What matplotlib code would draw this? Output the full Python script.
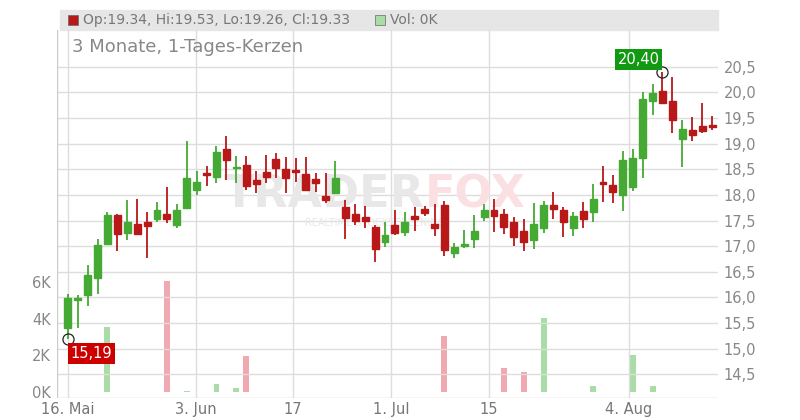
import matplotlib
matplotlib.use("Agg")
import matplotlib.pyplot as plt
from matplotlib.patches import Rectangle

opens  = [15.40,15.95,16.05,16.38,17.04,17.61,17.26,17.43,17.47,17.53,17.63,17.41,17.75,18.10,18.43,18.35,18.90,18.52,18.59,18.29,
          18.45,18.70,18.51,18.49,18.41,18.31,17.98,18.04,17.77,17.63,17.57,17.38,17.08,17.41,17.28,17.59,17.73,17.43,17.80,16.87,
          17.01,17.14,17.57,17.71,17.63,17.47,17.30,17.12,17.36,17.80,17.71,17.36,17.69,17.67,18.24,18.20,18.00,18.16,18.72,19.84,
          20.03,19.84,19.09,19.27,19.35,19.34]
highs  = [16.07,16.05,16.63,17.14,17.67,17.63,17.90,17.92,17.67,17.86,18.16,17.82,19.05,18.47,18.57,18.96,19.15,18.76,18.76,18.47,
          18.78,18.82,18.74,18.72,18.74,18.43,18.43,18.66,17.90,17.82,17.78,17.41,17.47,17.71,17.67,17.77,17.79,17.82,17.88,17.06,
          17.32,17.61,17.82,17.92,17.73,17.57,17.53,17.84,17.88,18.06,17.77,17.67,17.86,18.22,18.57,18.39,18.86,18.90,20.01,20.17,
          20.40,20.30,19.47,19.52,19.80,19.53]
lows   = [15.19,15.40,15.83,16.07,17.02,16.91,17.12,17.24,16.77,17.47,17.45,17.36,17.73,18.00,18.18,18.23,18.29,18.23,18.10,18.04,
          18.23,18.33,18.04,18.25,18.10,18.06,17.84,18.02,17.14,17.41,17.36,16.69,16.98,17.22,17.20,17.30,17.59,17.20,16.81,16.77,
          16.96,16.96,17.49,17.28,17.24,17.00,16.91,16.95,17.26,17.53,17.18,17.20,17.36,17.47,17.86,17.84,17.69,18.08,18.33,19.56,
          19.78,19.21,18.55,19.06,19.21,19.26]
closes = [15.99,15.97,16.44,17.02,17.61,17.24,17.47,17.24,17.39,17.71,17.53,17.71,18.33,18.25,18.39,18.84,18.68,18.53,18.18,18.21,
          18.35,18.53,18.33,18.45,18.10,18.23,17.90,18.33,17.55,17.49,17.49,16.95,17.22,17.26,17.47,17.53,17.65,17.36,16.93,16.99,
          17.02,17.30,17.71,17.59,17.38,17.18,17.08,17.43,17.80,17.73,17.47,17.59,17.53,17.92,18.22,18.06,18.68,18.72,19.88,19.98,
          19.80,19.47,19.29,19.17,19.25,19.33]
volumes = [0,0,0,0,3.55,0,0,0,0,0,6.05,0,0.05,0,0,0.45,0,0.2,1.95,0,
           0,0,0,0,0,0,0,0,0,0,0,0,0,0,0,0,0,0,3.05,0,
           0,0,0,0,1.3,0,1.1,0,4.05,0,0,0,0,0.35,0,0,0,2.0,0,0.35,
           0,0,0,0,0,0]
date_labels = ["16. Mai", "3. Jun", "17", "1. Jul", "15", "4. Aug"]
date_pos = [0, 12.92, 22.7, 32.6, 42.5, 56.6]
price_ticks = [14.5,15.0,15.5,16.0,16.5,17.0,17.5,18.0,18.5,19.0,19.5,20.0,20.5]
vol_ticks = [0, 2, 4, 6]

GREEN = "#44aa33"; RED = "#b81818"
VGREEN = "#a9dca6"; VRED = "#f0a8b1"

fig = plt.figure(figsize=(8, 4.2), dpi=100)
ax = fig.add_axes([0.071, 0.052, 0.8265, 0.877])
axv = ax.twinx()
ax.set_zorder(2); ax.patch.set_visible(False)
axv.set_zorder(1)

axv.yaxis.tick_left()
axv.set_ylim(-0.33, 19.7)
axv.set_yticks(vol_ticks)
axv.set_yticklabels([f"{v}K" for v in vol_ticks])
for i, v in enumerate(volumes):
    if v > 0:
        c = VGREEN if closes[i] >= opens[i] else VRED
        axv.bar(i, v, width=0.6, color=c, zorder=1)

ax.set_ylim(14.035, 21.22)
ax.set_xlim(-1.11, 65.6)
ax.yaxis.tick_right()
ax.set_yticks(price_ticks)
ax.set_yticklabels([f"{p:.1f}".replace(".", ",") for p in price_ticks])
ax.set_xticks(date_pos)
ax.set_xticklabels(date_labels)
for a in (ax, axv):
    a.tick_params(colors="#888888", labelsize=10.5, length=0, pad=4)
    for s in a.spines.values():
        s.set_visible(False)
ax.tick_params(axis="x", labelcolor="#777777", pad=3)
for p in price_ticks:
    ax.axhline(p, color="#dddddd", lw=1, zorder=0)
for d in date_pos:
    ax.axvline(d, color="#dddddd", lw=1, zorder=0)
ax.axvline(-1.11, color="#cccccc", lw=1)
ax.axhline(14.035, color="#cccccc", lw=1)

# watermark
ax.text(36, 18.0, "TRADER", fontsize=32, fontweight="bold", color="#e8e8e8", ha="right", va="center", zorder=1)
ax.text(36, 18.0, "FOX", fontsize=32, fontweight="bold", color="#fbe0e3", ha="left", va="center", zorder=1)
ax.text(31, 17.45, "REALTIME STOCKSCREENING", fontsize=7, color="#e8e8e8", ha="center", va="center", zorder=1)

for i in range(len(opens)):
    o, h, l, c = opens[i], highs[i], lows[i], closes[i]
    col = GREEN if c >= o else RED
    ax.vlines(i, l, h, color=col, lw=1.3, zorder=3)
    bot, top = min(o, c), max(o, c)
    ax.add_patch(Rectangle((i - 0.35, bot), 0.7, max(top - bot, 0.03), color=col, zorder=4))

imin = lows.index(min(lows)); imax = highs.index(max(highs))
ax.plot(imin, lows[imin], "o", ms=8, mfc="none", mec="#222222", mew=0.9, zorder=5)
ax.plot(imax, highs[imax], "o", ms=8, mfc="none", mec="#222222", mew=0.9, zorder=5)
ax.text(imin + 0.3, lows[imin] - 0.14, f"{min(lows):.2f}".replace(".", ","), color="white", fontsize=10.5,
        va="top", ha="left", bbox=dict(boxstyle="square,pad=0.2", fc="#cc0000", ec="none"), zorder=6)
ax.text(imax - 0.3, highs[imax] + 0.1, f"{max(highs):.2f}".replace(".", ","), color="white", fontsize=10.5,
        va="bottom", ha="right", bbox=dict(boxstyle="square,pad=0.2", fc="#119911", ec="none"), zorder=6)

fig.patches.append(Rectangle((60/800, 1-30/420), 658/800, 20/420, transform=fig.transFigure, color="#e6e6e6", zorder=0))
fig.patches.append(Rectangle((68/800, 1-25/420), 10/800, 10/420, transform=fig.transFigure, fc="#b81818", ec="#666666", lw=0.5))
fig.text(83/800, 1-20/420, f"Op:{opens[-1]:.2f}, Hi:{highs[-1]:.2f}, Lo:{lows[-1]:.2f}, Cl:{closes[-1]:.2f}",
         fontsize=10, color="#777777", va="center")
fig.patches.append(Rectangle((375/800, 1-25/420), 10/800, 10/420, transform=fig.transFigure, fc=VGREEN, ec="#666666", lw=0.5))
fig.text(390/800, 1-20/420, "Vol: 0K", fontsize=10, color="#777777", va="center")
fig.text(72/800, 1-47/420, "3 Monate, 1-Tages-Kerzen", fontsize=13, color="#888888", va="center")

fig.savefig("out.png", dpi=100)
